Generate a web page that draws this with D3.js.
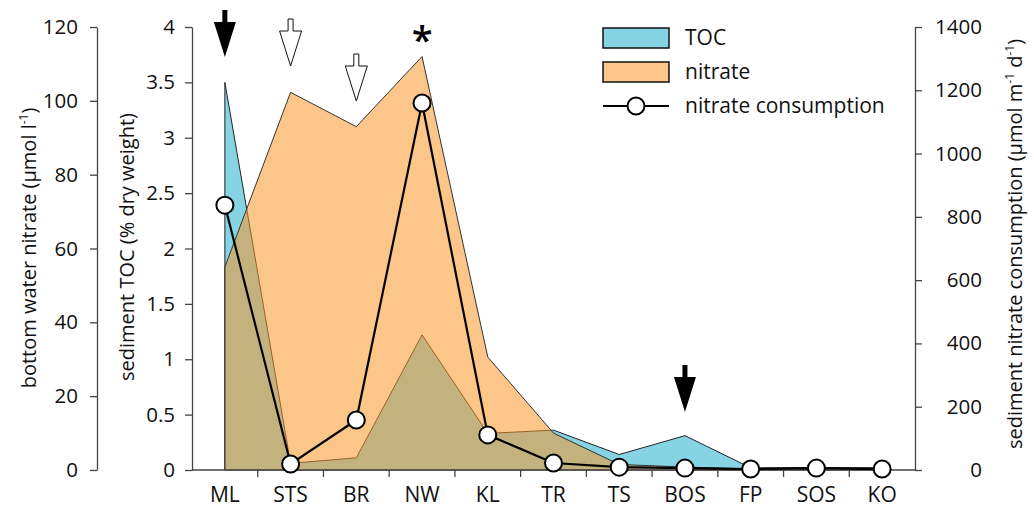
<!DOCTYPE html>
<html>
<head>
<meta charset="utf-8">
<script src="https://cdn.jsdelivr.net/npm/d3@7"></script>
<style>
  html, body { margin: 0; padding: 0; background: #fff; }
  svg { display: block; font-family: "Open Sans", "Noto Sans", sans-serif; }
</style>
</head>
<body>
<svg id="chart" width="1034" height="517"></svg>
<script>
// Sampling stations along the transect
const categories = ["ML", "STS", "BR", "NW", "KL", "TR", "TS", "BOS", "FP", "SOS", "KO"];
// Sediment total organic carbon (% dry weight)
const tocValues = [3.5, 0.06, 0.11, 1.22, 0.33, 0.36, 0.14, 0.31, 0.02, 0.02, 0.02];
// Bottom water nitrate (µmol l-1)
const nitrateValues = [55, 102.3, 93, 112, 30.6, 10, 1.5, 0.8, 0.3, 0.6, 0.5];
// Sediment nitrate consumption (µmol m-1 d-1)
const consumptionValues = [837, 19, 158, 1160, 111, 22, 9, 6, 3, 6, 3];

const nitrateTicks = [0, 20, 40, 60, 80, 100, 120];
const tocTicks = [0, 0.5, 1, 1.5, 2, 2.5, 3, 3.5, 4];
const consumptionTicks = [0, 200, 400, 600, 800, 1000, 1200, 1400];

// Station markers: filled arrows, open arrows, asterisk
const filledArrowStations = ["ML", "BOS"];
const openArrowStations = ["STS", "BR"];
const asteriskStations = ["NW"];

const svg = d3.select("#chart");
const axisColor = "#444";
const tickFont = 20.5;
const titleFont = 20;

const x = d3.scaleBand().domain(categories).range([192, 915]).padding(0);
const xc = d => x(d) + x.bandwidth() / 2;
const yToc = d3.scaleLinear().domain([0, 4]).range([470, 27]);
const yNit = d3.scaleLinear().domain([0, 120]).range([470, 27]);
const yCons = d3.scaleLinear().domain([0, 1400]).range([470, 27]);

const tocData = categories.map((c, i) => ({ c, v: tocValues[i] }));
const nitData = categories.map((c, i) => ({ c, v: nitrateValues[i] }));
const consData = categories.map((c, i) => ({ c, v: consumptionValues[i] }));

// TOC area (underneath)
const tocArea = d3.area().x(d => xc(d.c)).y0(yToc(0)).y1(d => yToc(d.v));
svg.append("path")
  .datum(tocData)
  .attr("d", tocArea)
  .attr("fill", "#86d3e3")
  .attr("stroke", "#222")
  .attr("stroke-width", 1);

// Nitrate area, translucent so the overlap reads as tan
const nitArea = d3.area().x(d => xc(d.c)).y0(yNit(0)).y1(d => yNit(d.v));
svg.append("path")
  .datum(nitData)
  .attr("d", nitArea)
  .attr("fill", "rgb(250,150,40)")
  .attr("fill-opacity", 0.54)
  .attr("stroke", "none");
const nitLine = d3.line().x(d => xc(d.c)).y(d => yNit(d.v));
svg.append("path")
  .datum(nitData)
  .attr("d", d => `M${xc(d[0].c)},${yNit(0)}L` + nitLine(d).slice(1))
  .attr("fill", "none")
  .attr("stroke", "#333")
  .attr("stroke-width", 1);

// Axes
function styleAxis(g) {
  g.selectAll("path.domain").attr("stroke", axisColor).attr("stroke-width", 1.3);
  g.selectAll(".tick line").attr("stroke", axisColor).attr("stroke-width", 1.3);
  g.selectAll(".tick text")
    .attr("font-family", '"Open Sans", sans-serif')
    .attr("font-size", tickFont)
    .attr("fill", "#111");
}

const gNit = svg.append("g").attr("transform", "translate(97,0)")
  .call(d3.axisLeft(yNit).tickValues(nitrateTicks).tickSize(7).tickSizeOuter(0).tickPadding(12)
    .tickFormat(d3.format("d")));
styleAxis(gNit);

const gToc = svg.append("g").attr("transform", "translate(192,0)")
  .call(d3.axisLeft(yToc).tickValues(tocTicks).tickSize(7).tickSizeOuter(0).tickPadding(10)
    .tickFormat(d => String(d)));
styleAxis(gToc);

const gCons = svg.append("g").attr("transform", "translate(915,0)")
  .call(d3.axisRight(yCons).tickValues(consumptionTicks).tickSize(7).tickSizeOuter(0).tickPadding(10)
    .tickFormat(d3.format("d")));
styleAxis(gCons);
gCons.selectAll(".tick text").attr("text-anchor", "end").attr("x", 67);

// Category axis: ticks at station boundaries, labels at station centres
const gX = svg.append("g").attr("transform", `translate(0,${yToc(0)})`);
gX.append("line").attr("x1", 192).attr("x2", 915).attr("y1", 0).attr("y2", 0)
  .attr("stroke", axisColor).attr("stroke-width", 1.3);
gX.selectAll("line.tick").data(categories.slice(1)).join("line")
  .attr("class", "tick")
  .attr("x1", d => x(d)).attr("x2", d => x(d))
  .attr("y1", 0).attr("y2", 7)
  .attr("stroke", axisColor).attr("stroke-width", 1.3);
gX.selectAll("text").data(categories).join("text")
  .attr("x", d => xc(d)).attr("y", 32)
  .attr("text-anchor", "middle")
  .attr("font-size", 21)
  .attr("fill", "#111")
  .text(d => d);

// Axis titles
function title(xp, yp, rot, parts) {
  const t = svg.append("text")
    .attr("transform", `translate(${xp},${yp}) rotate(${rot})`)
    .attr("text-anchor", "middle")
    .attr("font-size", titleFont)
    .attr("fill", "#111");
  parts.forEach(p => {
    const s = t.append("tspan").text(p.t);
    if (p.sup) s.attr("baseline-shift", "super").attr("font-size", 12);
  });
}
title(36, 248, -90, [{ t: "bottom water nitrate (µmol l" }, { t: "-1", sup: true }, { t: ")" }]);
title(134, 247, -90, [{ t: "sediment TOC (% dry weight)" }]);
title(1022, 244, -90, [
  { t: "sediment nitrate consumption (µmol  m" }, { t: "-1", sup: true },
  { t: " d" }, { t: "-1", sup: true }, { t: ")" }
]);

// Nitrate consumption line with open circles
const consLine = d3.line().x(d => xc(d.c)).y(d => yCons(d.v));
svg.append("path").datum(consData).attr("d", consLine)
  .attr("fill", "none").attr("stroke", "#000").attr("stroke-width", 2.2);
svg.selectAll("circle.cons").data(consData).join("circle")
  .attr("class", "cons")
  .attr("cx", d => xc(d.c)).attr("cy", d => yCons(d.v)).attr("r", 8.5)
  .attr("fill", "#fff").attr("stroke", "#000").attr("stroke-width", 2);

// Downward arrow glyph, tip at (0,0)
const arrowPath = "M-2.5,-47 L2.5,-47 L2.5,-35 L11,-35 L0,0 L-11,-35 L-2.5,-35 Z";
const arrowTips = { ML: 57, STS: 66, BR: 101, BOS: 412 };
filledArrowStations.forEach(c => {
  svg.append("path").attr("d", arrowPath)
    .attr("transform", `translate(${xc(c)},${arrowTips[c]})`)
    .attr("fill", "#000");
});
openArrowStations.forEach(c => {
  svg.append("path").attr("d", arrowPath)
    .attr("transform", `translate(${xc(c)},${arrowTips[c]})`)
    .attr("fill", "#fff").attr("stroke", "#111").attr("stroke-width", 1);
});
asteriskStations.forEach(c => {
  svg.append("text").attr("x", xc(c)).attr("y", 54)
    .attr("text-anchor", "middle").attr("font-size", 38).attr("font-weight", 600)
    .attr("fill", "#000").text("*");
});

// Legend
const lg = svg.append("g");
lg.append("rect").attr("x", 603).attr("y", 28).attr("width", 66).attr("height", 20)
  .attr("fill", "#86d3e3").attr("stroke", "#111").attr("stroke-width", 1.5);
lg.append("rect").attr("x", 603).attr("y", 62).attr("width", 66).attr("height", 20)
  .attr("fill", "#fdc68b").attr("stroke", "#111").attr("stroke-width", 1.5);
lg.append("line").attr("x1", 603).attr("x2", 669).attr("y1", 106).attr("y2", 106)
  .attr("stroke", "#000").attr("stroke-width", 2);
lg.append("circle").attr("cx", 636).attr("cy", 106).attr("r", 8.5)
  .attr("fill", "#fff").attr("stroke", "#000").attr("stroke-width", 2);
[["TOC", 38], ["nitrate", 72], ["nitrate consumption", 106]].forEach(([t, yp]) => {
  lg.append("text").attr("x", 685).attr("y", yp).attr("dy", "0.35em")
    .attr("font-size", 21).attr("fill", "#111").text(t);
});
</script>
</body>
</html>
